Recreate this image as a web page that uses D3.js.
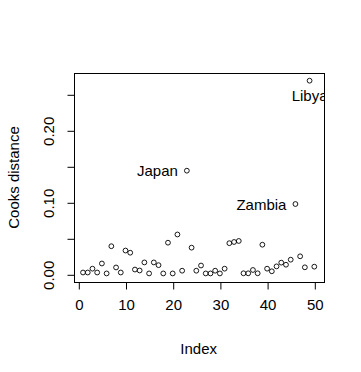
<!DOCTYPE html>
<html>
<head>
<meta charset="utf-8">
<script src="https://cdn.jsdelivr.net/npm/d3@7"></script>
<style>
  html, body { margin: 0; padding: 0; background: #fff; }
  svg { display: block; font-family: "Liberation Sans", Arial, sans-serif; }
</style>
</head>
<body>
<script>
// ---- data ----
const indexValues = d3.range(1, 51);
const cooksValues = [
  0.0025, 0.0025, 0.0078, 0.0025, 0.0150, 0.0012, 0.0390, 0.0095, 0.0025, 0.0330,
  0.0300, 0.0066, 0.0053, 0.0165, 0.0012, 0.0165, 0.0127, 0.0012, 0.0439, 0.0012,
  0.0553, 0.0050, 0.1439, 0.0370, 0.0050, 0.0122, 0.0012, 0.0012, 0.0050, 0.0012,
  0.0078, 0.0432, 0.0449, 0.0463, 0.0014, 0.0014, 0.0060, 0.0014, 0.0411, 0.0078,
  0.0042, 0.0110, 0.0162, 0.0133, 0.0203, 0.0976, 0.0250, 0.0097, 0.2689, 0.0106
];
const labelIndex = [23, 46, 49];
const labelNames = ["Japan", "Zambia", "Libya"];
const xTicks = [0, 10, 20, 30, 40, 50];
const yTicks = [0, 0.05, 0.10, 0.15, 0.20, 0.25];
const yTickLabels = ["0.00", "", "0.10", "", "0.20", ""];
const xTitle = "Index";
const yTitle = "Cooks distance";

(function () {
// ---- layout ----
const W = 361, H = 372;
const svg = d3.select("body").append("svg").attr("width", W).attr("height", H);

const x = d3.scaleLinear().domain([0, 50]).range([78.3, 314.3]);
const y = d3.scaleLinear().domain([0, 0.25]).range([274.3, 94.3]);

// R-style 4% range extension
const xmin = 1, xmax = 50, ymin = 0, ymax = d3.max(cooksValues);
const dx = (xmax - xmin) * 0.04, dy = (ymax - ymin) * 0.04;
const pLeft = x(xmin - dx), pRight = x(xmax + dx);
const pTop = y(ymax + dy), pBottom = y(ymin - dy);

const bx = Math.round(pLeft) + 0.5, by = Math.round(pTop) + 0.5;
const bw = Math.round(pRight) - Math.round(pLeft);
const bh = Math.round(pBottom) - Math.round(pTop);

svg.append("defs").append("clipPath").attr("id", "plotclip")
  .append("rect").attr("x", bx).attr("y", by).attr("width", bw).attr("height", bh);

// x axis
const xAxis = svg.append("g")
  .attr("transform", `translate(0.5,${Math.round(pBottom) + 0.5})`)
  .call(d3.axisBottom(x).tickValues(xTicks).tickSize(7).tickPadding(10)
        .tickFormat(d3.format("d")));
xAxis.select(".domain").remove();
xAxis.selectAll("line").attr("stroke", "#000");
xAxis.selectAll("text").attr("font-size", 15).attr("fill", "#000")
  .attr("font-family", "'Liberation Sans', Arial, sans-serif");

// y axis
const yAxis = svg.append("g")
  .attr("transform", `translate(${Math.round(pLeft) + 0.5},0.5)`)
  .call(d3.axisLeft(y).tickValues(yTicks).tickSize(7)
        .tickFormat((d, i) => yTickLabels[i]));
yAxis.select(".domain").remove();
yAxis.selectAll("line").attr("stroke", "#000");
yAxis.selectAll("text")
  .attr("font-size", 15).attr("fill", "#000")
  .attr("font-family", "'Liberation Sans', Arial, sans-serif")
  .attr("x", null).attr("dy", null)
  .attr("text-anchor", "middle")
  .attr("transform", "translate(-26,0) rotate(-90)")
  .attr("dominant-baseline", "central");

// titles
svg.append("text")
  .attr("x", (pLeft + pRight) / 2).attr("y", 348)
  .attr("text-anchor", "middle").attr("dominant-baseline", "central")
  .attr("font-size", 15).text(xTitle);
svg.append("text")
  .attr("transform", `translate(13,${(pTop + pBottom) / 2}) rotate(-90)`)
  .attr("text-anchor", "middle").attr("dominant-baseline", "central")
  .attr("font-size", 15).text(yTitle);

const plot = svg.append("g").attr("clip-path", "url(#plotclip)");

// points
plot.append("g").selectAll("circle")
  .data(indexValues.map((d, i) => ({ i: d, v: cooksValues[i] })))
  .join("circle")
  .attr("cx", d => x(d.i)).attr("cy", d => y(d.v))
  .attr("r", 2.4).attr("fill", "none").attr("stroke", "#000").attr("stroke-width", 0.9);

// labels
labelIndex.forEach((idx, k) => {
  const px = x(idx), py = y(cooksValues[idx - 1]);
  const t = plot.append("text").attr("font-size", 15).attr("fill", "#000")
    .attr("dominant-baseline", "central").text(labelNames[k]);
  if (labelNames[k] === "Libya") {
    t.attr("x", px).attr("y", py + 15).attr("text-anchor", "middle");
  } else {
    t.attr("x", px - 9).attr("y", py).attr("text-anchor", "end");
  }
});

// box on top
svg.append("rect")
  .attr("x", bx).attr("y", by).attr("width", bw).attr("height", bh)
  .attr("fill", "none").attr("stroke", "#000").attr("stroke-width", 1);
})();
</script>
</body>
</html>
